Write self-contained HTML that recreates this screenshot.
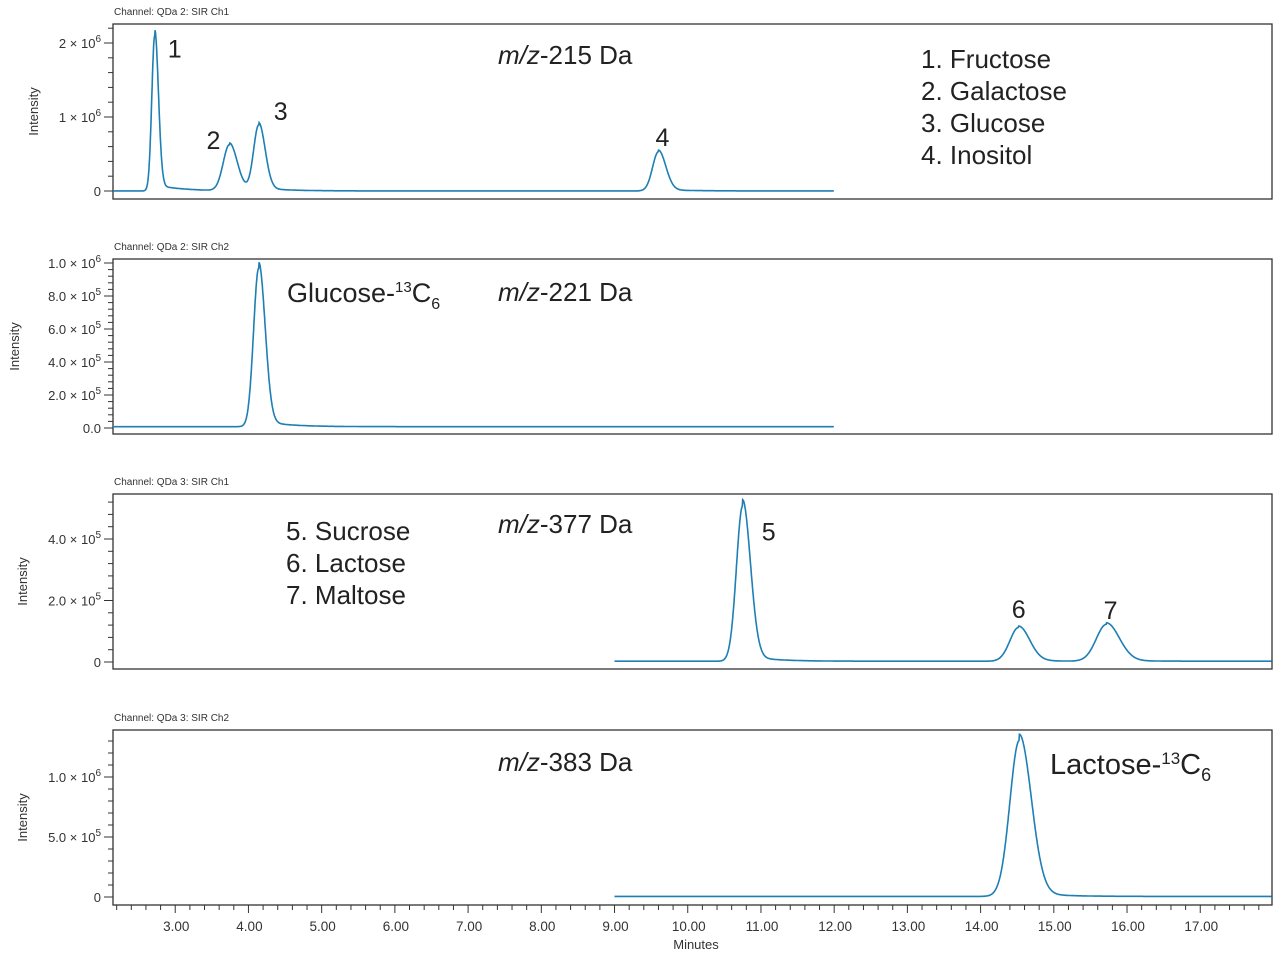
<!DOCTYPE html>
<html><head><meta charset="utf-8">
<style>
html,body{margin:0;padding:0;background:#fff;}
svg{display:block;font-family:"Liberation Sans",Arial,sans-serif;}
</style></head>
<body>
<svg id="chart" width="1280" height="956" viewBox="0 0 1280 956"></svg>
<script>
// ----- data -----
const xTickLabels = ["3.00","4.00","5.00","6.00","7.00","8.00","9.00","10.00","11.00","12.00","13.00","14.00","15.00","16.00","17.00"];
const xTickValues = [3,4,5,6,7,8,9,10,11,12,13,14,15,16,17];
// panel 1: m/z 215 peaks (retention time min, height, width)
const p1PeakRT = [2.72, 3.74, 4.14, 9.60];
const p1PeakH  = [2.1e6, 0.62e6, 0.88e6, 0.53e6];
const p1PeakW  = [0.04, 0.085, 0.07, 0.08];
const p1Range  = [2.15, 12.0];
// panel 2: m/z 221
const p2PeakRT = [4.14];
const p2PeakH  = [0.96e6];
const p2PeakW  = [0.07];
const p2Range  = [2.15, 12.0];
// panel 3: m/z 377
const p3PeakRT = [10.75, 14.52, 15.72];
const p3PeakH  = [5.05e5, 1.1e5, 1.2e5];
const p3PeakW  = [0.085, 0.12, 0.14];
const p3Range  = [9.0, 17.98];
// panel 4: m/z 383
const p4PeakRT = [14.53];
const p4PeakH  = [1.3e6];
const p4PeakW  = [0.13];
const p4Range  = [9.0, 17.98];

const p1YTicks = [0, 1e6, 2e6];
const p1YLabels = ["0","1 × 10<6>","2 × 10<6>"];
const p2YTicks = [0, 2e5, 4e5, 6e5, 8e5, 1e6];
const p2YLabels = ["0.0","2.0 × 10<5>","4.0 × 10<5>","6.0 × 10<5>","8.0 × 10<5>","1.0 × 10<6>"];
const p3YTicks = [0, 2e5, 4e5];
const p3YLabels = ["0","2.0 × 10<5>","4.0 × 10<5>"];
const p4YTicks = [0, 5e5, 1e6];
const p4YLabels = ["0","5.0 × 10<5>","1.0 × 10<6>"];

// ----- layout -----
const NS = "http://www.w3.org/2000/svg";
const svg = document.getElementById('chart');
const X0 = 113, X1 = 1272, T0 = 2.15, T1 = 17.98;
const xs = t => X0 + (t - T0) / (T1 - T0) * (X1 - X0);
const COLOR = "#1d7fb3";

function el(tag, attrs, parent){
  const e = document.createElementNS(NS, tag);
  for (const k in attrs) e.setAttribute(k, attrs[k]);
  (parent||svg).appendChild(e);
  return e;
}
function sciText(g, x, y, label, anchor){
  const t = el('text', {x:x, y:y, 'font-size':13, fill:'#333', 'text-anchor':anchor}, g);
  const m = label.match(/^(.*)<(\d+)>$/);
  if (m){
    t.textContent = m[1];
    const s = document.createElementNS(NS,'tspan');
    s.setAttribute('dy','-6'); s.setAttribute('font-size','10'); s.textContent = m[2];
    t.appendChild(s);
  } else t.textContent = label;
  return t;
}

function panel(cfg){
  const g = el('g', {});
  
  
  const ys = v => cfg.y0 - v / cfg.vRef * (cfg.y0 - cfg.yRef);
  const ch = el('text', {x:114, y:cfg.top-9, 'font-size':10, fill:'#333'}, g);
  ch.textContent = cfg.channel;
  
  
  const fr = el('rect', {x:X0, y:cfg.top, width:X1-X0, height:cfg.bottom-cfg.top, fill:'none', stroke:'#333', 'stroke-width':1.3}, g);
  
  
  for (let v = 0; ys(v) > cfg.top; v += cfg.minor){
    el('line', {x1:X0-5, x2:X0, y1:ys(v), y2:ys(v), stroke:'#333', 'stroke-width':1}, g);
  }
  cfg.yTicks.forEach((v,i)=>{
    el('line', {x1:X0-9, x2:X0, y1:ys(v), y2:ys(v), stroke:'#333', 'stroke-width':1}, g);
    const t = sciText(g, X0-12, ys(v)+5, cfg.yLabels[i], 'end');
    
    
  });
  const yl = el('text', {x:0, y:0, 'font-size':13, fill:'#333', 'text-anchor':'middle',
    transform:`translate(${cfg.ylabelX},${(cfg.top+cfg.bottom)/2}) rotate(-90)`}, g);
  yl.textContent = 'Intensity';
  
  
  let d = '';
  for (let t = cfg.range[0]; t <= cfg.range[1]; t += 0.005){
    let v = cfg.base;
    for (let i=0;i<cfg.rt.length;i++){
      const dt = t - cfg.rt[i];
      const w = dt > 0 ? cfg.w[i]*1.25 : cfg.w[i];
      v += cfg.h[i]*Math.exp(-dt*dt/(2*w*w));
      if (dt > 0) v += cfg.h[i]*0.04*Math.exp(-dt/0.35);
    }
    d += (d ? 'L' : 'M') + xs(t).toFixed(1) + ',' + ys(v).toFixed(1);
  }
  const p = el('path', {d:d, fill:'none', stroke:COLOR, 'stroke-width':1.6}, g);
  
  
  (cfg.peakLabels||[]).forEach((lab,i)=>{
    const tx = el('text', {x:xs(cfg.rt[i])+lab[1], y:ys(cfg.h[i])+lab[2], 'font-size':25, fill:'#222', 'text-anchor':'middle'}, g);
    tx.textContent = lab[0];
    
    
  });
  return g;
}

panel({name:'panel-mz215', channel:'Channel: QDa 2: SIR Ch1', top:24, bottom:199, y0:191, yRef:43, vRef:2e6, minor:2e5,
  yTicks:p1YTicks, yLabels:p1YLabels, ylabelX:38, rt:p1PeakRT, h:p1PeakH, w:p1PeakW, range:p1Range, base:1000,
  peakLabels:[["1",20,22],["2",-16,4],["3",22,-6],["4",4,-6]]});
panel({name:'panel-mz221', channel:'Channel: QDa 2: SIR Ch2', top:259, bottom:434, y0:428, yRef:263, vRef:1e6, minor:4e4,
  yTicks:p2YTicks, yLabels:p2YLabels, ylabelX:19, rt:p2PeakRT, h:p2PeakH, w:p2PeakW, range:p2Range, base:8000});
panel({name:'panel-mz377', channel:'Channel: QDa 3: SIR Ch1', top:494, bottom:669, y0:662, yRef:539, vRef:4e5, minor:4e4,
  yTicks:p3YTicks, yLabels:p3YLabels, ylabelX:27, rt:p3PeakRT, h:p3PeakH, w:p3PeakW, range:p3Range, base:2500,
  peakLabels:[["5",26,34],["6",0,-10],["7",4,-6]]});
panel({name:'panel-mz383', channel:'Channel: QDa 3: SIR Ch2', top:730, bottom:905, y0:897, yRef:777, vRef:1e6, minor:1e5,
  yTicks:p4YTicks, yLabels:p4YLabels, ylabelX:27, rt:p4PeakRT, h:p4PeakH, w:p4PeakW, range:p4Range, base:5000});

const xg = el('g', {});


for (let t = 2.2; t < T1; t += 0.2){
  const major = Math.abs(t - Math.round(t)) < 0.01;
  el('line', {x1:xs(t), x2:xs(t), y1:905, y2:905+(major?8:5), stroke:'#333', 'stroke-width':1}, xg);
}
xTickValues.forEach((v,i)=>{
  const t = el('text', {x:xs(v)+1, y:931, 'font-size':13.5, fill:'#333', 'text-anchor':'middle'}, xg);
  t.textContent = xTickLabels[i];
  
  
});
const xt = el('text', {x:696, y:949, 'font-size':13, fill:'#333', 'text-anchor':'middle'}, xg);
xt.textContent = 'Minutes';



function ann(name, x, y, html, size){
  const t = el('text', {x:x, y:y, 'font-size':size||24, fill:'#222'});
  t.innerHTML = html;
  
  
}
ann('mz215-title', 498, 64, '<tspan font-style="italic">m/z</tspan>-215 Da', 26);
ann('mz221-title', 498, 301, '<tspan font-style="italic">m/z</tspan>-221 Da', 26);
ann('mz377-title', 498, 533, '<tspan font-style="italic">m/z</tspan>-377 Da', 26);
ann('mz383-title', 498, 771, '<tspan font-style="italic">m/z</tspan>-383 Da', 26);
ann('glucose-13c6-label', 287, 302, 'Glucose-<tspan dy="-10" font-size="15">13</tspan><tspan dy="10">C</tspan><tspan dy="7" font-size="16">6</tspan>', 27);
ann('lactose-13c6-label', 1050, 774, 'Lactose-<tspan dy="-10" font-size="17">13</tspan><tspan dy="10">C</tspan><tspan dy="7" font-size="18">6</tspan>', 29);
const leg1 = ["1. Fructose","2. Galactose","3. Glucose","4. Inositol"];
leg1.forEach((s,i)=>ann('legend-entry-'+(i+1), 921, 68+i*32, s, 26));
const leg2 = ["5. Sucrose","6. Lactose","7. Maltose"];
leg2.forEach((s,i)=>ann('legend-entry-'+(i+5), 286, 540+i*32, s, 26));
</script>
</body></html>
